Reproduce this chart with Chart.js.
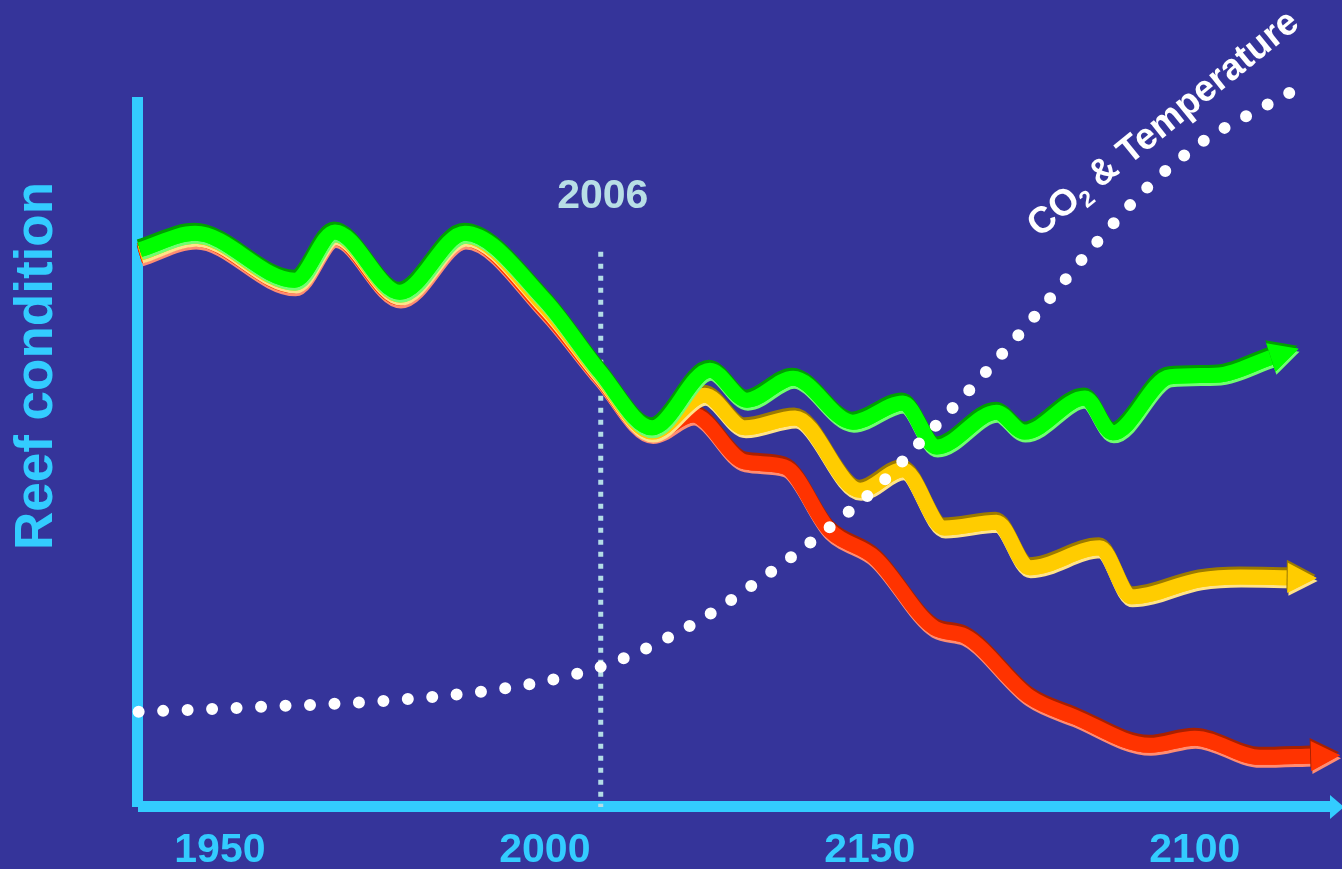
<!DOCTYPE html>
<html>
<head>
<meta charset="utf-8">
<script src="https://cdn.jsdelivr.net/npm/chart.js@4"></script>
<style>
  html, body { margin: 0; padding: 0; background: #35349a; }
  #wrap { width: 1342px; height: 869px; position: relative; }
</style>
</head>
<body>
<div id="wrap"><canvas id="reefChart"></canvas></div>
<script>
// x axis tick positions and the text shown under them
const tickYears = [1950, 2000, 2050, 2100];
const tickLabels = ['1950', '2000', '2150', '2100'];

// reef condition scenarios
const greenYears = [1937.7, 1946.2, 1961.5, 1967.7, 1977.7, 1987.7, 2000.0, 2008.5, 2016.5, 2025.4, 2031.1, 2038.2, 2047.4, 2055.1, 2060.3, 2069.5, 2073.8, 2083.1, 2087.4, 2096.2, 2103.1, 2112.0];
const greenVals  = [78.5, 80.8, 74.2, 81.0, 72.5, 80.8, 71.4, 61.3, 53.4, 61.5, 57.3, 60.4, 54.2, 56.9, 50.7, 55.6, 52.8, 57.6, 52.7, 60.6, 60.8, 63.4];

const yellowYears = [1937.7, 1946.2, 1961.5, 1967.7, 1977.7, 1987.7, 2000.0, 2008.5, 2016.5, 2024.6, 2030.8, 2038.5, 2048.5, 2055.1, 2061.5, 2069.5, 2074.6, 2085.4, 2090.3, 2100.8, 2107.0, 2114.6];
const yellowVals  = [78.0, 80.4, 73.8, 80.6, 72.1, 80.4, 70.6, 60.9, 52.8, 58.0, 53.4, 54.8, 44.6, 47.5, 39.3, 40.1, 33.7, 36.5, 29.6, 32.0, 32.4, 32.3];

const redYears = [1937.7, 1946.2, 1961.5, 1967.7, 1977.7, 1987.7, 2000.0, 2008.5, 2016.5, 2022.8, 2030.8, 2036.9, 2043.8, 2050.8, 2060.0, 2064.6, 2074.6, 2081.5, 2093.1, 2100.0, 2110.0, 2118.2];
const redVals  = [77.6, 80.0, 73.4, 80.2, 71.7, 80.0, 70.0, 60.5, 52.6, 55.2, 48.6, 47.9, 39.0, 35.1, 25.2, 24.1, 15.5, 12.7, 8.7, 9.7, 7.0, 7.2];

// CO2 & temperature (dotted)
const co2Years = [1937.5, 1956.2, 1974.6, 1993.1, 2003.8, 2011.5, 2023.8, 2033.1, 2042.3, 2051.5, 2059.2, 2067.7, 2076.2, 2084.6, 2093.1, 2101.5, 2108.5, 2114.6];
const co2Vals  = [13.4, 14.1, 14.9, 16.6, 18.5, 20.7, 26.3, 32.0, 38.3, 45.4, 52.8, 61.1, 70.0, 79.2, 87.6, 93.9, 97.6, 100.6];

// "2006" marker
const markerYears = [2008.6, 2008.6];
const markerVals = [78.2, 0];

const CYAN = '#33ccff';
const FONT = '"Liberation Sans", Arial, sans-serif';

const pts = (xs, ys) => xs.map((x, i) => ({ x: x, y: ys[i] }));

function drawArrow(ctx, meta, color) {
  const n = meta.data.length;
  const p = meta.data[n - 1];
  const q = meta.data[n - 2];
  let dx = p.x - (p.cp1x ?? q.x);
  let dy = p.y - (p.cp1y ?? q.y);
  const len = Math.hypot(dx, dy) || 1;
  dx /= len; dy /= len;
  const L = 27, W = 15;
  const bx = p.x - dx * 2, by = p.y - dy * 2;
  ctx.beginPath();
  ctx.moveTo(bx - dy * W, by + dx * W);
  ctx.lineTo(p.x + dx * L, p.y + dy * L);
  ctx.lineTo(bx + dy * W, by - dx * W);
  ctx.closePath();
  ctx.fillStyle = color;
  ctx.fill();
}

// 3D edges + arrow heads on the scenario lines
const shadePlugin = {
  id: 'shade',
  beforeDatasetDraw(chart, args) {
    const ds = chart.data.datasets[args.index];
    if (!ds.edge) return;
    const ctx = chart.ctx;
    ctx.save();
    ctx.shadowBlur = 0;
    ctx.shadowColor = ds.edge[1];
    ctx.shadowOffsetX = 1;
    ctx.shadowOffsetY = 3;
    args.meta.controller.draw();
    drawArrow(ctx, args.meta, ds.borderColor);
    ctx.shadowColor = ds.edge[0];
    ctx.shadowOffsetX = -1;
    ctx.shadowOffsetY = -3;
  },
  afterDatasetDraw(chart, args) {
    const ds = chart.data.datasets[args.index];
    if (!ds.edge) return;
    drawArrow(chart.ctx, args.meta, ds.borderColor);
    chart.ctx.restore();
  }
};

// axis lines, y title and annotations
const decorPlugin = {
  id: 'decor',
  beforeDatasetsDraw(chart) {
    const { ctx, chartArea: a } = chart;
    ctx.save();
    ctx.fillStyle = CYAN;
    ctx.fillRect(a.left - 6, a.top, 11, a.bottom - a.top);
    ctx.fillRect(a.left, a.bottom - 6, a.right - a.left + 2, 11);
    ctx.beginPath();
    ctx.moveTo(a.right + 2, a.bottom - 12);
    ctx.lineTo(a.right + 16, a.bottom);
    ctx.lineTo(a.right + 2, a.bottom + 12);
    ctx.closePath();
    ctx.fill();

    ctx.translate(52, 366);
    ctx.rotate(-Math.PI / 2);
    ctx.font = 'bold 53px ' + FONT;
    ctx.textAlign = 'center';
    ctx.textBaseline = 'alphabetic';
    ctx.fillText('Reef condition', 0, 0);
    ctx.restore();

    const xs = chart.scales.x;
    ctx.save();
    ctx.fillStyle = '#b8dee6';
    ctx.font = 'bold 41px ' + FONT;
    ctx.textAlign = 'center';
    ctx.textBaseline = 'alphabetic';
    ctx.fillText('2006', xs.getPixelForValue(markerYears[0]) + 2, 208);
    ctx.restore();
  },
  afterDatasetsDraw(chart) {
    const ctx = chart.ctx;
    ctx.save();
    ctx.translate(1162, 122);
    ctx.rotate(-39 * Math.PI / 180);
    ctx.fillStyle = '#ffffff';
    ctx.textBaseline = 'alphabetic';
    ctx.textAlign = 'left';
    const big = 'bold 37px ' + FONT, small = 'bold 23px ' + FONT;
    ctx.font = big;
    const w1 = ctx.measureText('CO').width;
    const w3 = ctx.measureText(' & Temperature').width;
    ctx.font = small;
    const w2 = ctx.measureText('2').width;
    let x = -(w1 + w2 + w3) / 2;
    ctx.font = big;
    ctx.fillText('CO', x, 13);
    x += w1;
    ctx.font = small;
    ctx.fillText('2', x, 20);
    x += w2;
    ctx.font = big;
    ctx.fillText(' & Temperature', x, 13);
    ctx.restore();
  }
};

new Chart(document.getElementById('reefChart'), {
  type: 'line',
  data: {
    datasets: [
      {
        label: 'CO2 & Temperature',
        data: pts(co2Years, co2Vals),
        borderColor: '#ffffff',
        borderWidth: 12,
        borderDash: [0, 24.5],
        borderCapStyle: 'round',
        cubicInterpolationMode: 'monotone',
        pointRadius: 0,
        clip: false
      },
      {
        label: 'Green',
        data: pts(greenYears, greenVals),
        borderColor: '#00ff00',
        edge: ['#00a000', '#70ff70'],
        borderWidth: 15,
        cubicInterpolationMode: 'monotone',
        borderJoinStyle: 'round',
        pointRadius: 0,
        clip: false
      },
      {
        label: 'Yellow',
        data: pts(yellowYears, yellowVals),
        borderColor: '#ffcc00',
        edge: ['#9c7a00', '#ffe38a'],
        borderWidth: 15,
        cubicInterpolationMode: 'monotone',
        borderJoinStyle: 'round',
        pointRadius: 0,
        clip: false
      },
      {
        label: 'Red',
        data: pts(redYears, redVals),
        borderColor: '#ff3300',
        edge: ['#a82000', '#ff8c72'],
        borderWidth: 15,
        cubicInterpolationMode: 'monotone',
        borderJoinStyle: 'round',
        pointRadius: 0,
        clip: false
      },
      {
        label: '2006',
        data: pts(markerYears, markerVals),
        borderColor: '#b3dce6',
        borderWidth: 5,
        borderDash: [5, 7],
        borderCapStyle: 'butt',
        pointRadius: 0,
        clip: false
      }
    ]
  },
  options: {
    responsive: true,
    maintainAspectRatio: false,
    animation: false,
    events: [],
    layout: { padding: { left: 138, top: 97, right: 14, bottom: 0 } },
    plugins: {
      legend: { display: false },
      tooltip: { enabled: false }
    },
    scales: {
      x: {
        type: 'linear',
        min: 1937.4,
        max: 2120.5,
        grid: { display: false, drawTicks: false },
        border: { display: false },
        afterBuildTicks: s => { s.ticks = tickYears.map(v => ({ value: v })); },
        afterFit: s => { s.height = 62; },
        ticks: {
          color: CYAN,
          autoSkip: false,
          maxRotation: 0,
          padding: 23,
          font: { family: FONT, size: 41, weight: 'bold', lineHeight: 1 },
          callback: (v, i) => tickLabels[i]
        }
      },
      y: {
        display: false,
        min: 0,
        max: 100
      }
    }
  },
  plugins: [shadePlugin, decorPlugin]
});
</script>
</body>
</html>
